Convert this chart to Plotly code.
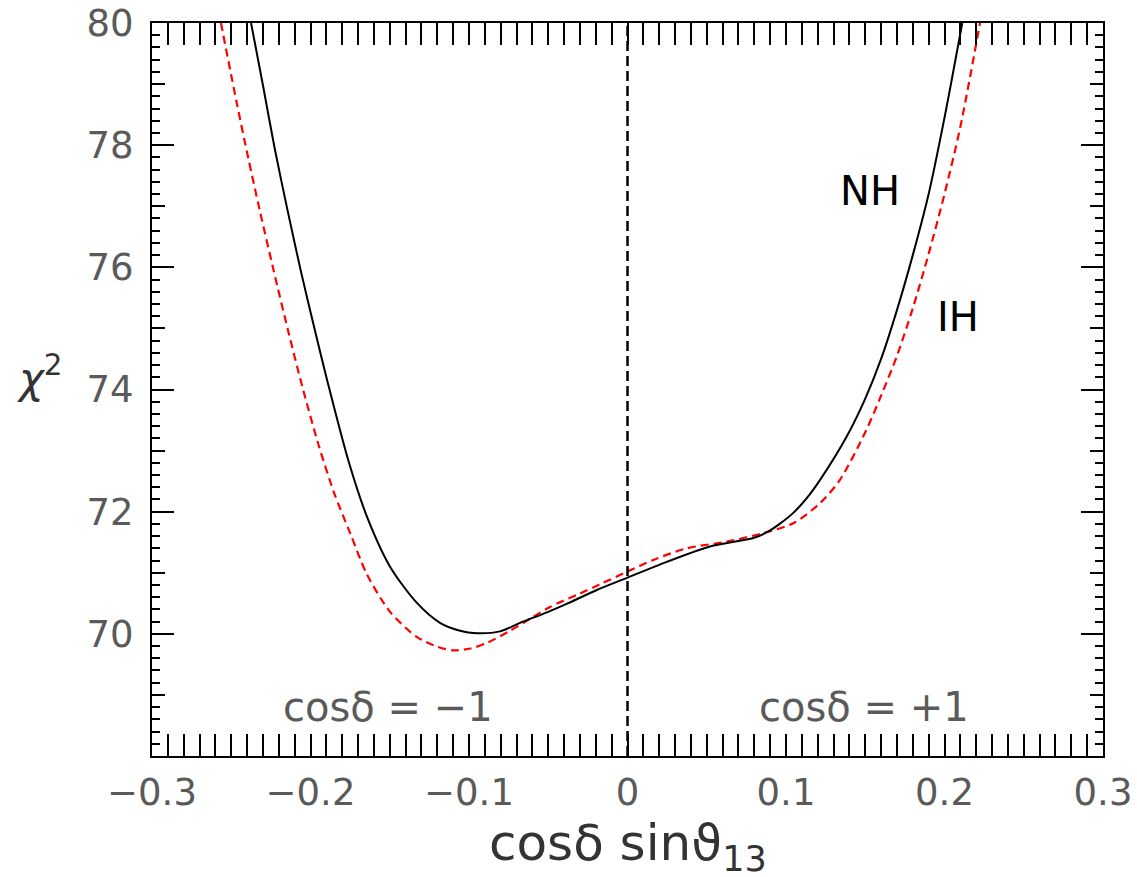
import plotly.graph_objects as go

# ---- data ----
x_nh = [-0.2375, -0.2300, -0.2224, -0.2142, -0.2060, -0.1978, -0.1890, -0.1757, -0.1644,
        -0.1498, -0.1330, -0.1183, -0.1057, -0.0951, -0.0804, -0.0678, -0.0500, -0.0384,
        -0.0200, 0.0000, 0.0200, 0.0520, 0.0794, 0.0878, 0.0960, 0.1046, 0.1131, 0.1215,
        0.1383, 0.1500, 0.1600, 0.1700, 0.1800, 0.1900, 0.2000, 0.2112]
y_nh = [80.00, 78.98, 77.92, 76.90, 75.93, 75.03, 74.10, 72.80, 71.92,
        71.10, 70.51, 70.18, 70.05, 70.01, 70.04, 70.18, 70.36, 70.49,
        70.71, 70.92, 71.13, 71.43, 71.57, 71.66, 71.80, 71.98, 72.22, 72.52,
        73.23, 73.85, 74.50, 75.30, 76.20, 77.20, 78.45, 80.00]

x_ih = [-0.2565, -0.2466, -0.2392, -0.2319, -0.2230, -0.2140, -0.2050, -0.1950, -0.1850,
        -0.1750, -0.1645, -0.1498, -0.1330, -0.1200, -0.1099, -0.0990, -0.0888, -0.0741,
        -0.0600, -0.0489, -0.0300, -0.0174, 0.0000, 0.0163, 0.0374, 0.0626, 0.0857,
        0.1046, 0.1215, 0.1340, 0.1500, 0.1600, 0.1700, 0.1800, 0.1900, 0.2000, 0.2100, 0.2224]
y_ih = [80.00, 78.70, 77.78, 76.92, 75.92, 74.95, 74.03, 73.10, 72.30,
        71.65, 70.98, 70.36, 69.95, 69.79, 69.73, 69.76, 69.85, 70.05,
        70.27, 70.44, 70.66, 70.81, 71.02, 71.21, 71.40, 71.51, 71.65,
        71.81, 72.14, 72.52, 73.30, 73.90, 74.55, 75.33, 76.22, 77.20, 78.30, 80.00]

x_tickvals = [-0.3, -0.2, -0.1, 0.0, 0.1, 0.2, 0.3]
x_ticktext = ["\u22120.3", "\u22120.2", "\u22120.1", "0", "0.1", "0.2", "0.3"]
y_tickvals = [70, 72, 74, 76, 78, 80]
y_ticktext = ["70", "72", "74", "76", "78", "80"]
y_midticks = [69, 71, 73, 75, 77, 79]

x_range = [-0.3, 0.3]
y_range = [68, 80]

FONT = "DejaVu Sans"
GRAY = "#5a5a5a"
L, R, T, B = 152, 1103, 23, 756

fig = go.Figure()

fig.add_trace(go.Scatter(x=x_ih, y=y_ih, mode="lines",
                         line=dict(color="#ff0000", width=2.2, dash="8px,5px", shape="spline", smoothing=0.8),
                         showlegend=False, hoverinfo="skip"))
fig.add_trace(go.Scatter(x=x_nh, y=y_nh, mode="lines",
                         line=dict(color="black", width=2, shape="spline", smoothing=0.8),
                         showlegend=False, hoverinfo="skip"))

# vertical dashed line at x = 0
fig.add_trace(go.Scatter(x=[0, 0], y=y_range, mode="lines",
                         line=dict(color="black", width=2.5, dash="10px,5px"),
                         showlegend=False, hoverinfo="skip"))

fig.update_layout(
    width=1137, height=877,
    margin=dict(l=L, r=1137 - R, t=T, b=877 - B),
    paper_bgcolor="white", plot_bgcolor="white",
    xaxis=dict(range=x_range, tickmode="array", tickvals=x_tickvals, ticktext=x_ticktext,
               ticks="inside", ticklen=22, tickwidth=1.6, tickcolor="black",
               showline=True, linecolor="black", linewidth=2, mirror="allticks",
               showgrid=False, zeroline=False, automargin=False, ticklabelstandoff=3,
               tickfont=dict(family=FONT, size=37, color=GRAY),
               minor=dict(dtick=0.01, tick0=0, ticks="inside", ticklen=11, tickwidth=1.6,
                          tickcolor="black", showgrid=False)),
    yaxis=dict(range=y_range, tickmode="array", tickvals=y_tickvals, ticktext=y_ticktext,
               ticks="inside", ticklen=22, tickwidth=1.6, tickcolor="black",
               showline=True, linecolor="black", linewidth=2, mirror="allticks",
               showgrid=False, zeroline=False, automargin=False, ticklabelstandoff=9,
               tickfont=dict(family=FONT, size=37, color=GRAY),
               minor=dict(dtick=0.2, tick0=0, ticks="inside", ticklen=8, tickwidth=1.6,
                          tickcolor="black", showgrid=False)),
    yaxis2=dict(range=y_range, overlaying="y", side="left", anchor="x",
                tickmode="array", tickvals=y_midticks, ticks="inside", ticklen=13,
                tickwidth=1.6, tickcolor="black", showticklabels=False, automargin=False,
                showline=False, mirror="allticks", showgrid=False, zeroline=False),
    showlegend=False,
)

# dummy trace on yaxis2 so the overlay axis is drawn
fig.add_trace(go.Scatter(x=[None], y=[None], yaxis="y2", showlegend=False, hoverinfo="skip"))

annots = [
    dict(text="cosδ sinϑ<sub>13</sub>", x=628, y=846, size=50, color="#333333"),
    dict(text="<i>χ</i><sup>2</sup>", x=40, y=375, size=42, color="#333333"),
    dict(text="NH", x=870, y=191, size=40, color="black"),
    dict(text="IH", x=958, y=317, size=40, color="black"),
    dict(text="cosδ = \u22121", x=388, y=707, size=40, color=GRAY),
    dict(text="cosδ = +1", x=864, y=707, size=40, color=GRAY),
]
for a in annots:
    fig.add_annotation(text=a["text"], xref="paper", yref="paper",
                       x=(a["x"] - L) / (R - L), y=1 - (a["y"] - T) / (B - T),
                       xanchor="center", yanchor="middle", showarrow=False,
                       font=dict(family=FONT, size=a["size"], color=a["color"]))

fig.write_html("out.html")
